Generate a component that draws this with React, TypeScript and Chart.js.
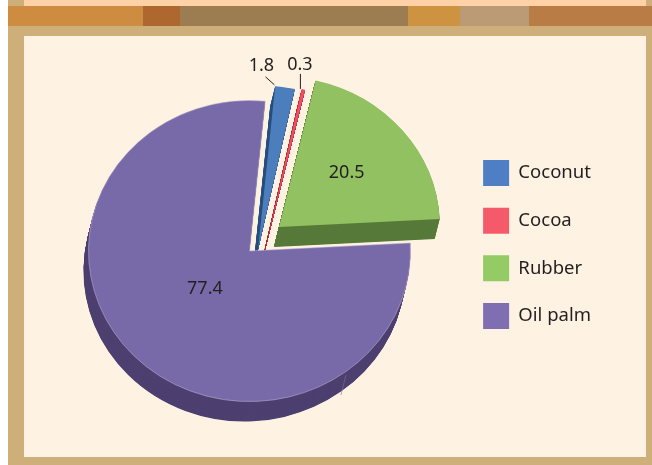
import React, { useEffect, useRef } from "react";
import { Chart, registerables } from "chart.js";

Chart.register(...registerables);

const categories = ["Coconut", "Cocoa", "Rubber", "Oil palm"];
const shares = [1.8, 0.3, 20.5, 77.4];
const displayValues = ["1.8", "0.3", "20.5", "77.4"];

const faceColors = ["#4C7DBD", "#EE4F63", "#91C160", "#786AA9"];
const wallColors = ["#29507F", "#A42B3B", "#577A3A", "#4D4070"];
const legendColors = ["#4E7FC4", "#F55A6B", "#94CB64", "#7F6FB2"];

const PIE = { x: 249.5, y: 251, r: 161, ky: 0.935, wallX: -5, wallY: 20, rotation: 5.6 };
const sliceShift = [[8.5, -1], [15.5, -1], [29.5, -24], [0, 0]];
const sliceGrow = [15, 15, 0, 0];
const labelPolar = [
  { r: 197, deg: 1 },
  { r: 201, deg: 10 },
  { r: 89, deg: 49.5 },
  { r: 60, deg: 228 },
];
const sliceIndexOrder = [3, 2, 0, 1];
const leaders = [
  { from: [4, 11], to: [13, 19] },
  { from: [0.5, 9], to: [0.5, 24] },
];

const bands: [number, number, string][] = [
  [8, 135, "#CE8C40"],
  [143, 37, "#AE672E"],
  [180, 228, "#9C7C51"],
  [408, 52, "#CE9340"],
  [460, 69, "#BA9B76"],
  [529, 123, "#B87C44"],
];

const FONT = '"Noto Sans", sans-serif';
const INK = "#231F20";

function polar(a: { x: number; y: number }, r: number, deg: number) {
  const t = (deg * Math.PI) / 180;
  return { x: a.x + r * Math.sin(t), y: a.y - r * Math.cos(t) * PIE.ky };
}

const piePlugin = {
  id: "tiltedPie",
  beforeDatasetsDraw(chart: any) {
    const { ctx } = chart;
    const meta = chart.getDatasetMeta(0);
    const baseR = meta.controller.outerRadius;

    const drawSlice = (i: number, dx: number, dy: number, color: string, border: boolean) => {
      const el = meta.data[i];
      const saved = el.options;
      const savedR = el.outerRadius;
      el.options = {
        ...saved,
        backgroundColor: color,
        borderWidth: border && i === 3 ? 0.6 : 0,
        borderColor: "#B8AECF",
      };
      el.outerRadius = baseR + sliceGrow[i];
      ctx.save();
      ctx.translate(PIE.x + sliceShift[i][0] + dx, PIE.y + sliceShift[i][1] + dy);
      ctx.scale(1, PIE.ky);
      ctx.translate(-el.x, -el.y);
      el.draw(ctx);
      ctx.restore();
      el.options = saved;
      el.outerRadius = savedR;
    };

    for (const i of sliceIndexOrder) {
      for (let s = 40; s >= 1; s--) {
        drawSlice(i, (PIE.wallX * s) / 40, (PIE.wallY * s) / 40, wallColors[i], false);
      }
    }
    // seam on the oil palm wall
    const seam = polar(PIE, PIE.r + 3, 144);
    ctx.save();
    ctx.strokeStyle = "#7D7299";
    ctx.lineWidth = 0.6;
    ctx.beginPath();
    ctx.moveTo(seam.x, seam.y);
    ctx.lineTo(seam.x + PIE.wallX, seam.y + PIE.wallY);
    ctx.stroke();
    ctx.restore();

    for (const i of sliceIndexOrder) drawSlice(i, 0, 0, faceColors[i], true);

    ctx.save();
    ctx.fillStyle = INK;
    ctx.font = `18px ${FONT}`;
    ctx.textAlign = "center";
    ctx.textBaseline = "middle";
    const labelPts = displayValues.map((v, i) => {
      const p = polar(
        { x: PIE.x + sliceShift[i][0], y: PIE.y + sliceShift[i][1] },
        labelPolar[i].r,
        labelPolar[i].deg
      );
      ctx.fillText(v, p.x, p.y);
      return p;
    });
    ctx.strokeStyle = INK;
    ctx.lineWidth = 1;
    leaders.forEach((l, i) => {
      const p = labelPts[i];
      ctx.beginPath();
      ctx.moveTo(p.x + l.from[0], p.y + l.from[1]);
      ctx.lineTo(p.x + l.to[0], p.y + l.to[1]);
      ctx.stroke();
    });
    ctx.restore();
    return false;
  },
};

export default function App() {
  const ref = useRef<HTMLCanvasElement>(null);
  useEffect(() => {
    if (!ref.current) return;
    const chart = new Chart(ref.current, {
      type: "pie",
      data: {
        labels: categories,
        datasets: [{ data: shares, backgroundColor: faceColors, borderWidth: 0, radius: PIE.r }],
      } as any,
      options: {
        responsive: false,
        animation: false,
        rotation: PIE.rotation,
        layout: { padding: { left: 10, right: 51, top: 38, bottom: 14 } },
        plugins: {
          tooltip: { enabled: false },
          legend: {
            position: "right",
            labels: {
              boxWidth: 26,
              boxHeight: 26,
              padding: 21.7,
              color: INK,
              font: { family: FONT, size: 18.5 },
              generateLabels: () =>
                categories.map((t, i) => ({
                  text: t,
                  fillStyle: legendColors[i],
                  strokeStyle: legendColors[i],
                  lineWidth: 0,
                  hidden: false,
                  index: i,
                  fontColor: INK,
                })),
            },
          },
        },
      } as any,
      plugins: [piePlugin as any],
    });
    return () => chart.destroy();
  }, []);

  const block = (l: number, t: number, w: number, h: number, c: string) => (
    <div style={{ position: "absolute", left: l, top: t, width: w, height: h, background: c }} />
  );

  return (
    <div style={{ position: "absolute", left: 0, top: 0, width: 652, height: 465, background: "#fff", overflow: "hidden" }}>
      {block(8, 0, 644, 465, "#CEAE79")}
      {block(24, 0, 622, 6, "#FFD1A6")}
      {bands.map(([x, w, c]) => (
        <div key={x}>{block(x, 6, w, 20, c)}</div>
      ))}
      {block(24, 36, 622, 421, "#FEF2E2")}
      <canvas ref={ref} width={652} height={465} style={{ position: "absolute", left: 0, top: 0, display: "block" }} />
    </div>
  );
}
